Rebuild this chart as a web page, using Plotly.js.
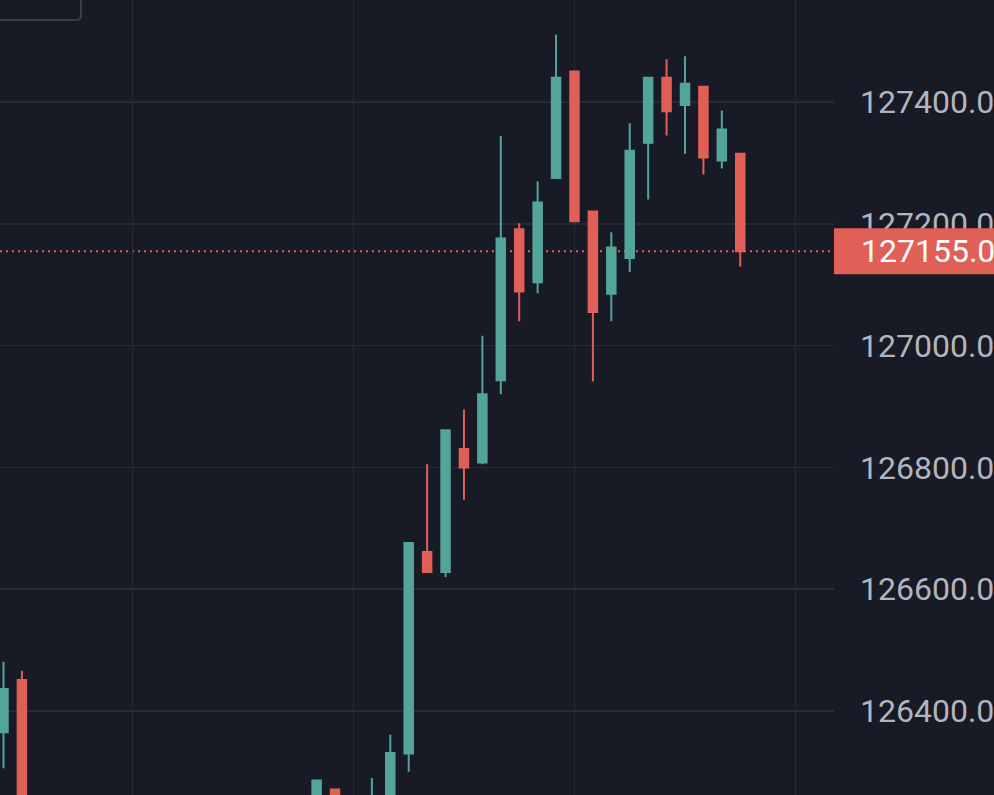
<!DOCTYPE html>
<html>
<head>
<meta charset="utf-8">
<script src="https://cdn.plot.ly/plotly-3.0.1.min.js"></script>
<style>
  html, body { margin: 0; padding: 0; background: #181a25; overflow: hidden; }
  #chart { width: 994px; height: 795px; }
</style>
</head>
<body>
<div id="chart"></div>
<script>
// Bar index (time slot) of each visible candle
const barIndex = [0, 1, 17, 18, 20, 21, 22, 23, 24, 25, 26, 27, 28, 29, 30, 31, 32, 33, 34, 35, 36, 37, 38, 39, 40];
const openVals  = [126365, 126451, 126230, 126271, 126200, 126235, 126330, 126661, 126628, 126830, 126808, 126943, 127191, 127104, 127275, 127450, 127220, 127085, 127144, 127333, 127440, 127395, 127425, 127304, 127315];
const highVals  = [126481, 126466, 126286, 126271, 126290, 126361, 126676, 126805, 126861, 126895, 127016, 127344, 127201, 127270, 127511, 127450, 127220, 127186, 127365, 127440, 127470, 127475, 127425, 127386, 127315];
const lowVals   = [126306, 126150, 126200, 126230, 126180, 126220, 126300, 126628, 126620, 126747, 126805, 126920, 127040, 127086, 127275, 127204, 126941, 127040, 127121, 127240, 127345, 127315, 127281, 127291, 127130];
const closeVals = [126436, 126180, 126286, 126240, 126250, 126331, 126676, 126628, 126861, 126800, 126920, 127176, 127089, 127235, 127440, 127204, 127055, 127161, 127320, 127440, 127385, 127430, 127309, 127355, 127155];

const lastPrice = 127155;
const lastPriceLabel = '127155.0';
const timeGridTicks = [7, 19, 31, 43];
const priceTicks = [126400, 126600, 126800, 127000, 127200, 127400];

const GREEN = '#53a59a';
const RED = '#e05f57';
const BG = '#181a25';
const GRID = '#272a36';

const trace = {
  type: 'candlestick',
  x: barIndex,
  open: openVals,
  high: highVals,
  low: lowVals,
  close: closeVals,
  increasing: { line: { color: GREEN, width: 2 }, fillcolor: GREEN },
  decreasing: { line: { color: RED, width: 2 }, fillcolor: RED },
  whiskerwidth: 0,
  hoverinfo: 'skip',
  showlegend: false
};

const layout = {
  width: 994,
  height: 795,
  margin: { l: 0, r: 160, t: 0, b: 0, pad: 0 },
  paper_bgcolor: BG,
  plot_bgcolor: BG,
  boxgap: 0.34,
  showlegend: false,
  font: { family: 'Roboto, "Noto Sans", sans-serif', color: '#b2b5be' },
  xaxis: {
    range: [-0.19, 45.09],
    rangeslider: { visible: false },
    tickvals: timeGridTicks,
    showticklabels: false,
    ticks: '',
    showgrid: true,
    gridcolor: GRID,
    gridwidth: 1.5,
    zeroline: false,
    showline: false,
    fixedrange: true
  },
  yaxis: {
    side: 'right',
    range: [126262, 127567.5],
    tickvals: priceTicks,
    tickformat: '.1f',
    ticks: '',
    ticklabelstandoff: 25,
    tickfont: { family: 'Roboto, sans-serif', size: 32, color: '#b2b5be' },
    showgrid: true,
    gridcolor: GRID,
    gridwidth: 1.5,
    zeroline: false,
    showline: false,
    fixedrange: true
  },
  shapes: [
    {
      type: 'line', layer: 'below',
      xref: 'paper', x0: 0, x1: 1,
      yref: 'y', y0: lastPrice, y1: lastPrice,
      line: { color: RED, width: 2, dash: '2px,4px' }
    },
    {
      type: 'rect', layer: 'above',
      xref: 'paper', x0: 1, x1: 1.25,
      yref: 'y', y0: lastPrice - 37.7, y1: lastPrice + 37.7,
      fillcolor: RED, line: { width: 0 }
    },
    {
      type: 'path', layer: 'above',
      xref: 'paper', yref: 'paper',
      path: 'M -0.003,0.9748 L 0.0911,0.9748 Q 0.0971,0.9748 0.0971,0.9811 L 0.0971,1.003',
      line: { color: '#3a3d4a', width: 2 }
    }
  ],
  annotations: [
    {
      xref: 'paper', x: 1, xanchor: 'left', xshift: 25,
      yref: 'y', y: lastPrice, yanchor: 'middle',
      text: lastPriceLabel, showarrow: false,
      font: { family: 'Roboto, sans-serif', size: 32, color: '#ffffff' }
    }
  ]
};

Plotly.newPlot('chart', [trace], layout, { displayModeBar: false, staticPlot: true });
</script>
</body>
</html>
